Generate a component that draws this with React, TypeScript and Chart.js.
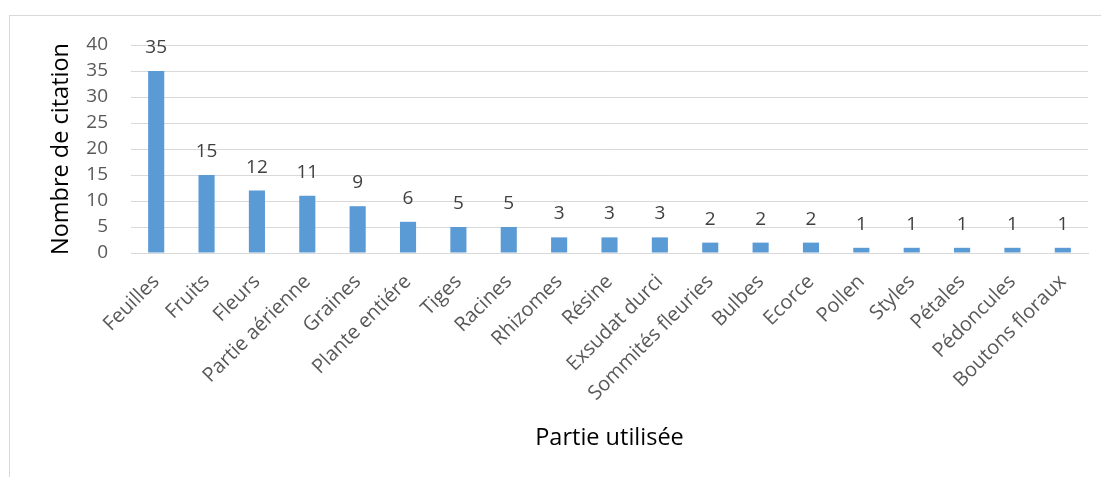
import React, { useEffect, useRef } from "react";
import { Chart, registerables } from "chart.js";

Chart.register(...registerables);

const categories = [
  "Feuilles",
  "Fruits",
  "Fleurs",
  "Partie aérienne",
  "Graines",
  "Plante entiére",
  "Tiges",
  "Racines",
  "Rhizomes",
  "Résine",
  "Exsudat durci",
  "Sommités fleuries",
  "Bulbes",
  "Ecorce",
  "Pollen",
  "Styles",
  "Pétales",
  "Pédoncules",
  "Boutons floraux",
];

const citations = [35, 15, 12, 11, 9, 6, 5, 5, 3, 3, 3, 2, 2, 2, 1, 1, 1, 1, 1];

const yTicks = [0, 5, 10, 15, 20, 25, 30, 35, 40];

const FONT = "'Open Sans', 'DejaVu Sans', sans-serif";

// Writes each bar's value above it
const valueLabels = {
  id: "valueLabels",
  afterDatasetsDraw(chart: any) {
    const { ctx } = chart;
    const meta = chart.getDatasetMeta(0);
    const values = chart.data.datasets[0].data as number[];
    ctx.save();
    ctx.font = `19px ${FONT}`;
    ctx.fillStyle = "#404040";
    ctx.textAlign = "center";
    ctx.textBaseline = "alphabetic";
    meta.data.forEach((bar: any, i: number) => {
      ctx.fillText(String(values[i]), bar.x, bar.y - 18);
    });
    ctx.restore();
  },
};

export default function App() {
  const canvasRef = useRef<HTMLCanvasElement | null>(null);

  useEffect(() => {
    if (!canvasRef.current) return;
    const chart = new Chart(canvasRef.current, {
      type: "bar",
      data: {
        labels: categories,
        datasets: [
          {
            data: citations,
            backgroundColor: "#5b9bd5",
            barPercentage: 0.32,
            categoryPercentage: 1,
          },
        ],
      },
      options: {
        animation: false,
        responsive: false,
        maintainAspectRatio: false,
        layout: { padding: { left: 0, top: 45, right: 13, bottom: 0 } },
        plugins: {
          legend: { display: false },
          tooltip: { enabled: false },
        },
        scales: {
          x: {
            grid: { display: false },
            border: { display: true, color: "#d9d9d9", width: 1 },
            ticks: {
              autoSkip: false,
              minRotation: 45,
              maxRotation: 45,
              padding: 9,
              color: "#595959",
              font: { family: FONT, size: 20 },
            },
            title: {
              display: true,
              text: "Partie utilisée",
              color: "#000000",
              font: { family: FONT, size: 23.5 },
              padding: { top: 0, bottom: 25 },
            },
            afterFit(scale: any) {
              scale.height = 224;
            },
          },
          y: {
            min: 0,
            max: 40,
            afterBuildTicks(scale: any) {
              scale.ticks = yTicks.map((v) => ({ value: v }));
            },
            grid: { color: "#d9d9d9", lineWidth: 1, drawTicks: false },
            border: { display: false },
            ticks: {
              autoSkip: false,
              padding: 23,
              color: "#595959",
              font: { family: FONT, size: 19 },
            },
            title: {
              display: true,
              text: "Nombre de citation",
              color: "#000000",
              font: { family: FONT, size: 23.5 },
              padding: { top: 47, bottom: 0 },
            },
            afterFit(scale: any) {
              scale.width = 131;
            },
          },
        },
      },
      plugins: [valueLabels],
    });
    return () => chart.destroy();
  }, []);

  return (
    <div
      style={{
        position: "fixed",
        left: 0,
        top: 0,
        width: 1101,
        height: 477,
        background: "#ffffff",
        overflow: "hidden",
      }}
    >
      <div
        style={{
          position: "absolute",
          left: 9,
          top: 15,
          width: 1100,
          height: 470,
          borderLeft: "1px solid #d9d9d9",
          borderTop: "1px solid #d9d9d9",
        }}
      />
      <canvas
        ref={canvasRef}
        width={1101}
        height={477}
        style={{ position: "absolute", left: 0, top: 0, width: 1101, height: 477 }}
      />
    </div>
  );
}
